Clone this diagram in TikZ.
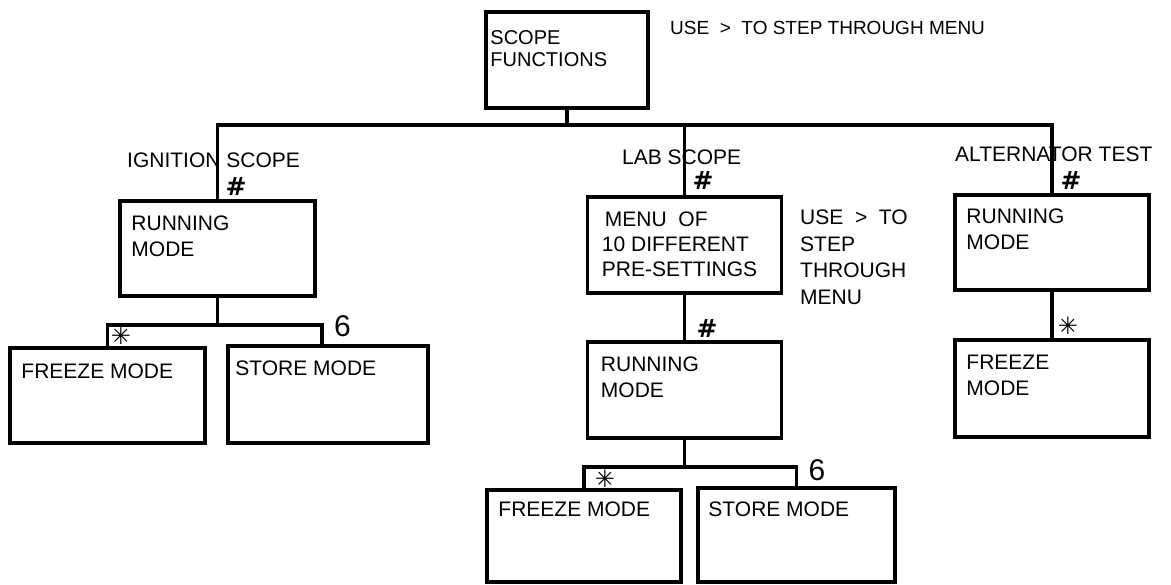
\documentclass[tikz,border=0pt]{standalone}
\usepackage{fontspec}
\setmainfont{Liberation Sans}
\newfontfamily\symfont{DejaVu Sans}
\begin{document}
\begin{tikzpicture}[x=1pt,y=-1pt,
  box/.style={draw, line width=3.5pt, rectangle, inner sep=0pt},
  txt/.style={anchor=north west, inner sep=0pt, align=left, font=\fontsize{21}{26}\selectfont},
  note/.style={anchor=north west, inner sep=0pt, align=left, font=\fontsize{21}{26.5}\selectfont},
  hashmark/.style={inner sep=0pt, font=\fontsize{25}{25}\selectfont\symfont\bfseries},
  starmark/.style={inner sep=0pt, font=\fontsize{24}{24}\selectfont\symfont},
  sixmark/.style={inner sep=0pt, font=\fontsize{30}{30}\selectfont},
  conn/.style={line width=3.5pt}]
\useasboundingbox (0,0) rectangle (1171,585);

% boxes
\node[box, minimum width=162pt, minimum height=96pt] (top) at (567,60) {};
\node[box, minimum width=195pt, minimum height=95pt] (ignrun) at (217.5,248.5) {};
\node[box, minimum width=195pt, minimum height=95pt] (ignfrz) at (107.5,395.5) {};
\node[box, minimum width=200pt, minimum height=97pt] (ignsto) at (328,394.5) {};
\node[box, minimum width=194pt, minimum height=96pt] (labmenu) at (684.5,245) {};
\node[box, minimum width=194pt, minimum height=96pt] (labrun) at (684.5,390) {};
\node[box, minimum width=194pt, minimum height=92pt] (labfrz) at (584,536) {};
\node[box, minimum width=197pt, minimum height=94pt] (labsto) at (796.5,535) {};
\node[box, minimum width=194pt, minimum height=95pt] (altrun) at (1052,242.5) {};
\node[box, minimum width=194pt, minimum height=97pt] (altfrz) at (1052,388.5) {};

% box texts
\node[txt, font=\fontsize{20}{22}\selectfont] (ttop) at ([shift={(6,20)}]top.north west) {SCOPE\\FUNCTIONS};
\node[txt] (tignrun) at ([shift={(13,16)}]ignrun.north west) {RUNNING\\MODE};
\node[txt] (tignfrz) at ([shift={(13,17)}]ignfrz.north west) {FREEZE MODE};
\node[txt] (tignsto) at ([shift={(9,16)}]ignsto.north west) {STORE MODE};
\node[txt, font=\fontsize{21}{25}\selectfont] (tlabmenu) at ([shift={(16,16)}]labmenu.north west) {\hspace{3pt}MENU\ \ OF\\10 DIFFERENT\\PRE-SETTINGS};
\node[txt] (tlabrun) at ([shift={(15,16)}]labrun.north west) {RUNNING\\MODE};
\node[txt] (tlabfrz) at ([shift={(13,13)}]labfrz.north west) {FREEZE MODE};
\node[txt] (tlabsto) at ([shift={(12,15)}]labsto.north west) {STORE MODE};
\node[txt] (taltrun) at ([shift={(13,15)}]altrun.north west) {RUNNING\\MODE};
\node[txt] (taltfrz) at ([shift={(13,17)}]altfrz.north west) {FREEZE\\MODE};

% connectors
\coordinate (bus) at (567,125);
\draw[conn] (top.south) -- (bus);
\draw[conn] (ignrun.north) -- (ignrun.north |- bus) -- (altrun.north |- bus) -- (altrun.north);
\draw[conn] (labmenu.north) -- (labmenu.north |- bus);

\coordinate (ib) at (217.5,325);
\coordinate (isj) at (322,325);
\draw[conn] (ignrun.south) -- (ib);
\draw[conn] (ignfrz.north) |- (isj) -- (isj |- ignsto.north);

\draw[conn] (labmenu.south) -- (labrun.north);
\coordinate (lb) at (684.5,467);
\draw[conn] (labrun.south) -- (lb);
\draw[conn] (labfrz.north) |- (labsto.north |- lb) -- (labsto.north);

\draw[conn] (altrun.south) -- (altfrz.north);

% labels
\node[note, font=\fontsize{19}{19}\selectfont] (topnote) at (670,21) {USE \ >\ \ TO STEP THROUGH MENU};
\node[note] (lign) at (127,153) {IGNITION SCOPE};
\node[note] (llab) at (622,150) {LAB SCOPE};
\node[note] (lalt) at (955,147) {ALTERNATOR TEST};
\node[note] (labnote) at (800,210) {USE \ >\ \ TO\\STEP\\THROUGH\\MENU};

% marks
\node[hashmark] (h1) at (236,187) {\#};
\node[hashmark] (h2) at (703,181) {\#};
\node[hashmark] (h3) at (707,329) {\#};
\node[hashmark] (h4) at (1071,181) {\#};
\node[starmark] (s1) at (121,336) {✳};
\node[starmark] (s2) at (605,479) {✳};
\node[starmark] (s3) at (1068,326) {✳};
\node[sixmark] (six1) at (342.5,326) {6};
\node[sixmark] (six2) at (817,470) {6};
\end{tikzpicture}
\end{document}
